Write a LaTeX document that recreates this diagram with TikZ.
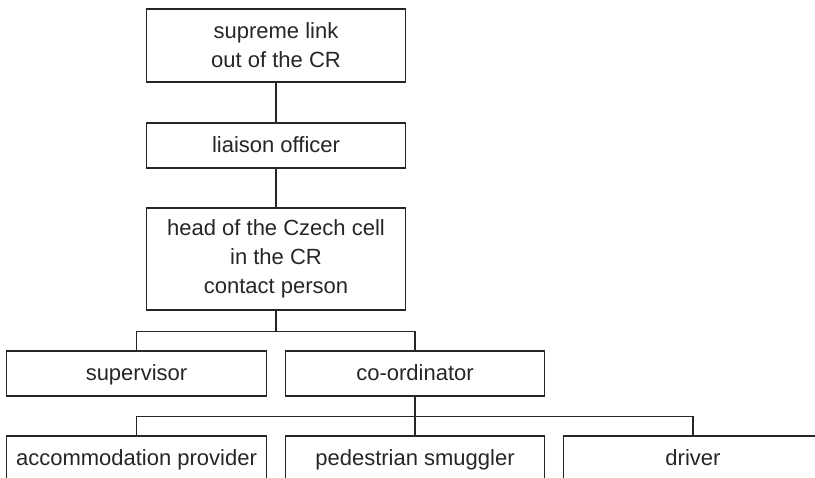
\documentclass[tikz,border=0pt]{standalone}
\usepackage{fontspec}
\setmainfont{Liberation Sans}
\begin{document}
\begin{tikzpicture}[x=1pt,y=-1pt,
  box/.style={draw=black!85, line width=1.3pt, minimum width=259.5pt, align=center,
    font=\fontsize{22}{29}\selectfont, inner sep=0pt, text=black!85},
  one/.style={box, minimum height=45pt, text height=16pt, text depth=1pt},
  conn/.style={draw=black!85, line width=1.3pt}]
\useasboundingbox (0,0) rectangle (815,478);
\clip (0,0) rectangle (815,478);
\node[box, minimum height=73pt] (top) at (276,45.5) {supreme link\\out of the CR};
\node[one] (liaison) at (276,145.5) {liaison officer};
\node[box, minimum height=102pt] (head) at (276,259) {head of the Czech cell\\in the CR\\contact person};
\node[one] (sup) at (136.5,373.5) {supervisor};
\node[one] (coord) at (415,373.5) {co-ordinator};
\node[one] (acc) at (136.5,458.5) {accommodation provider};
\node[one] (ped) at (415,458.5) {pedestrian smuggler};
\node[one] (drv) at (693,458.5) {driver};
\draw[conn] (top.south) -- (liaison.north);
\draw[conn] (liaison.south) -- (head.north);
\draw[conn] (head.south) -- ++(0,21) coordinate (j1);
\draw[conn] (sup.north) |- (j1) -| (coord.north);
\draw[conn] (coord.south) -- (ped.north);
\draw[conn] (coord.south) ++(0,20) coordinate (j2);
\draw[conn] (acc.north) |- (j2) -| (drv.north);
\end{tikzpicture}
\end{document}
